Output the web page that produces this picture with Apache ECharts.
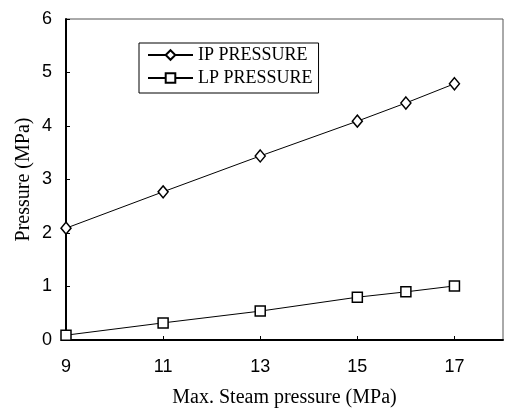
<!DOCTYPE html>
<html>
<head>
<meta charset="utf-8">
<script src="https://cdn.jsdelivr.net/npm/echarts@6/dist/echarts.min.js"></script>
<style>
  html, body { margin: 0; padding: 0; background: #fff; }
  #chart { width: 505px; height: 412px; }
</style>
</head>
<body>
<div id="chart"></div>
<script>
  // max steam pressure (MPa)
  var steamPressure = [9, 11, 13, 15, 16, 17];
  var ipPressure = [2.09, 2.77, 3.44, 4.09, 4.43, 4.79];
  var lpPressure = [0.09, 0.32, 0.54, 0.80, 0.90, 1.01];
  var xTicks = [9, 11, 13, 15, 17];

  function pairs(ys) {
    return steamPressure.map(function (x, i) { return [x, ys[i]]; });
  }

  var chart = echarts.init(document.getElementById("chart"));
  var option = {
    animation: false,
    backgroundColor: "#fff",
    grid: {
      left: 66, top: 19, right: 2, bottom: 72,
      outerBoundsMode: "none",
      show: true,
      borderColor: "#555",
      borderWidth: 1
    },
    legend: {
      orient: "vertical",
      left: 139,
      top: 43,
      padding: [3, 6, 6, 8],
      itemWidth: 45,
      itemHeight: 12,
      itemGap: 5,
      borderColor: "#000",
      borderWidth: 1,
      textStyle: {
        fontFamily: "Liberation Serif",
        fontSize: 18,
        color: "#000"
      },
      data: ["IP PRESSURE", "LP PRESSURE"]
    },
    xAxis: {
      type: "value",
      min: 9,
      max: 18,
      name: "Max. Steam pressure (MPa)",
      nameLocation: "middle",
      nameGap: 48,
      nameMoveOverlap: false,
      nameTextStyle: { fontFamily: "Liberation Serif", fontSize: 20, color: "#000" },
      splitLine: { show: false },
      axisLine: { lineStyle: { color: "#000", width: 2 } },
      axisTick: { inside: true, length: 4, lineStyle: { color: "#000" }, customValues: xTicks },
      axisLabel: {
        customValues: xTicks,
        margin: 18,
        fontFamily: "Liberation Sans",
        fontSize: 18,
        color: "#000"
      }
    },
    yAxis: {
      type: "value",
      min: 0,
      max: 6,
      interval: 1,
      name: "Pressure (MPa)",
      nameLocation: "middle",
      nameGap: 32,
      nameMoveOverlap: false,
      nameTextStyle: { fontFamily: "Liberation Serif", fontSize: 20, color: "#000" },
      splitLine: { show: false },
      axisLine: { show: true, lineStyle: { color: "#000", width: 2 } },
      axisTick: { show: true, inside: true, length: 4, lineStyle: { color: "#000" } },
      axisLabel: {
        margin: 14,
        fontFamily: "Liberation Sans",
        fontSize: 18,
        color: "#000"
      }
    },
    series: [
      {
        name: "IP PRESSURE",
        type: "line",
        data: pairs(ipPressure),
        symbol: "diamond",
        symbolSize: [10, 12],
        lineStyle: { color: "#000", width: 1 },
        itemStyle: { color: "#fff", borderColor: "#000", borderWidth: 1.5 }
      },
      {
        name: "LP PRESSURE",
        type: "line",
        data: pairs(lpPressure),
        symbol: "rect",
        symbolSize: 10,
        lineStyle: { color: "#000", width: 1 },
        itemStyle: { color: "#fff", borderColor: "#000", borderWidth: 1.5 }
      }
    ]
  };
  chart.setOption(option);
</script>
</body>
</html>
